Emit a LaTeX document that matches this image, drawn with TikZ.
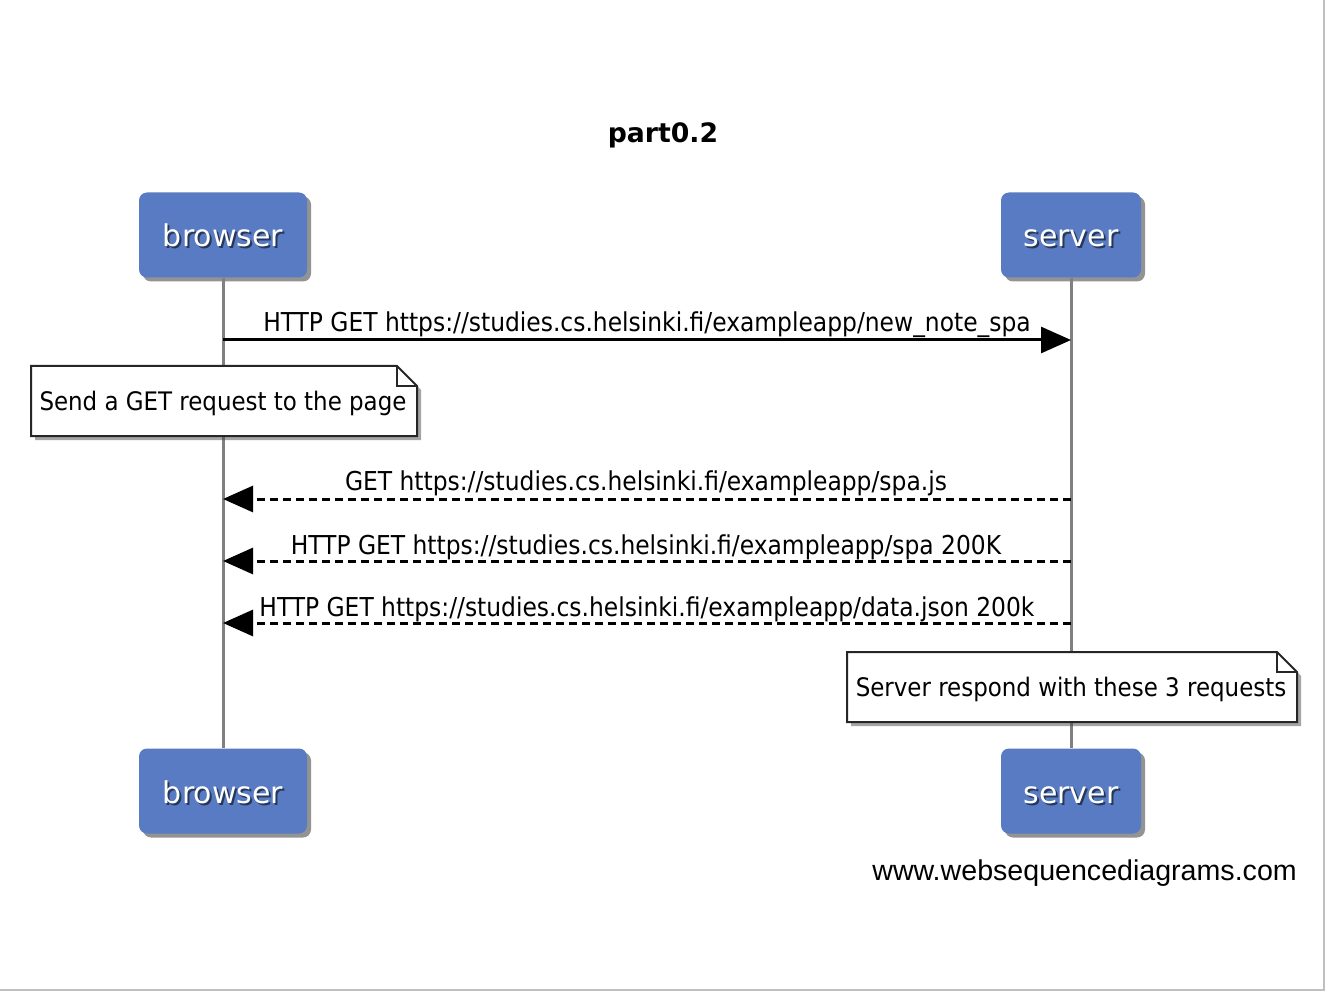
\documentclass[tikz,border=0pt]{standalone}
\usepackage{fontspec}
\setmainfont{DejaVu Sans}
\newfontfamily\condfont{DejaVu Sans Condensed}
\newfontfamily\arialfont{Liberation Sans}
\usetikzlibrary{arrows.meta,shadows}
\definecolor{boxblue}{RGB}{88,123,196}
\definecolor{lifegrey}{RGB}{128,128,128}
\begin{document}
\begin{tikzpicture}[x=1pt,y=-1pt,
  actor/.style={fill=boxblue,rounded corners=8pt,minimum width=#1,minimum height=85pt,
     inner sep=0pt,drop shadow={shadow xshift=4pt,shadow yshift=-4pt,opacity=0.6,fill=black!70}},
  actortxt/.style={text=white,font=\fontsize{30}{34}\selectfont,inner sep=0pt,anchor=base},
  actorshd/.style={text=black,opacity=0.55,font=\fontsize{30}{34}\selectfont,inner sep=0pt,anchor=base},
  msg/.style={font=\condfont\fontsize{26}{30}\selectfont,inner sep=0pt,anchor=base},
  lifeline/.style={draw=lifegrey,line width=3pt},
  solidmsg/.style={line width=3pt,-{Triangle[length=30pt,width=26pt]}},
  dashmsg/.style={line width=3pt,dash pattern=on 8pt off 5pt,-{Triangle[length=30pt,width=26pt]}},
  notebox/.style={draw=black!85,fill=white,line width=2pt,
     drop shadow={shadow xshift=4pt,shadow yshift=-4pt,opacity=0.5,fill=black!70}},
  notetxt/.style={font=\condfont\fontsize{25.5}{29}\selectfont,inner sep=0pt,anchor=base}
]
\useasboundingbox (0,0) rectangle (1326,992);
\fill[white] (0,0) rectangle (1326,992);
\draw[black!25,line width=2pt] (1324,0) -- (1324,990) -- (0,990);

% title
\node[font=\bfseries\fontsize{26.7}{30}\selectfont,anchor=base,inner sep=0pt] (title) at (663,143) {part0.2};

% actors
\node[actor=168pt] (bT) at (223,235) {};
\node[actor=140pt] (sT) at (1071,235) {};
\node[actor=168pt] (bB) at (223,791) {};
\node[actor=140pt] (sB) at (1071,791) {};

% lifelines
\draw[lifeline] (bT.south) -- (bB.north);
\draw[lifeline] (sT.south) -- (sB.north);

\foreach \n/\t in {bT/browser,sT/server,bB/browser,sB/server}{
  \node[actorshd] (\n shd) at ([xshift=2pt,yshift=-14pt]\n.center) {\t};
  \node[actortxt] (\n txt) at ([yshift=-12pt]\n.center) {\t};
}

% message 1
\coordinate (b1) at (bT.south |- 0,340);
\coordinate (s1) at (sT.south |- 0,340);
\draw[solidmsg] (b1) -- (s1);
\node[msg] (m1) at (647,332) {HTTP GET https://studies.cs.helsinki.fi/exampleapp/new\_note\_spa};

% note 1
\draw[notebox] (31,366) -- (397,366) -- (417,386) -- (417,436) -- (31,436) -- cycle;
\draw[black!85,line width=1.4pt] (397,366) -- (397,386) -- (417,386);
\node[notetxt] (n1) at (223,410) {Send a GET request to the page};

% messages 2-4
\coordinate (s2) at (sT.south |- 0,499);
\coordinate (b2) at (bT.south |- 0,499);
\draw[dashmsg] (s2) -- (b2);
\node[msg] (m2) at (646,490) {GET https://studies.cs.helsinki.fi/exampleapp/spa.js};

\coordinate (s3) at (sT.south |- 0,561);
\coordinate (b3) at (bT.south |- 0,561);
\draw[dashmsg] (s3) -- (b3);
\node[msg] (m3) at (646,554) {HTTP GET https://studies.cs.helsinki.fi/exampleapp/spa 200K};

\coordinate (s4) at (sT.south |- 0,623);
\coordinate (b4) at (bT.south |- 0,623);
\draw[dashmsg] (s4) -- (b4);
\node[msg] (m4) at (647,616) {HTTP GET https://studies.cs.helsinki.fi/exampleapp/data.json 200k};

% note 2
\draw[notebox] (847,652) -- (1277,652) -- (1297,672) -- (1297,722) -- (847,722) -- cycle;
\draw[black!85,line width=1.4pt] (1277,652) -- (1277,672) -- (1297,672);
\node[notetxt] (n2) at (1071,696) {Server respond with these 3 requests};

% footer
\node[font=\arialfont\fontsize{28.6}{32}\selectfont,anchor=base east,inner sep=0pt] (foot) at (1297,880) {www.websequencediagrams.com};
\end{tikzpicture}
\end{document}
